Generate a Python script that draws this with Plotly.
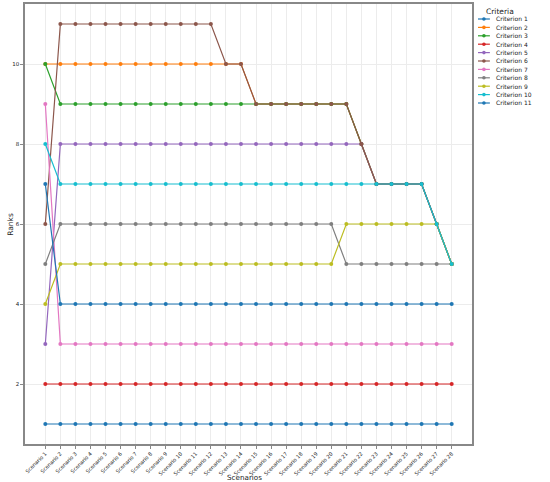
import plotly.graph_objects as go

# Ranks of each criterion across the scenarios #
scenarios = [f"Scenario {i}" for i in range(1, 29)]

criterion_1 = [1] * 28
criterion_2 = [10] + [10] * 11 + [10, 10] + [9] * 7 + [8] + [7] * 4 + [6, 5]
criterion_3 = [10] + [9] * 13 + [9] * 7 + [8] + [7] * 4 + [6, 5]
criterion_4 = [2] * 28
criterion_5 = [3] + [8] * 20 + [8] + [7] * 4 + [6, 5]
criterion_6 = [6] + [11] * 11 + [10, 10] + [9] * 7 + [8] + [7] * 4 + [6, 5]
criterion_7 = [9] + [3] * 27
criterion_8 = [5] + [6] * 19 + [5] * 8
criterion_9 = [4] + [5] * 19 + [6] * 6 + [6, 5]
criterion_10 = [8] + [7] * 25 + [6, 5]
criterion_11 = [7] + [4] * 27

criteria_names = [f"Criterion {i}" for i in range(1, 12)]
ranks = [criterion_1, criterion_2, criterion_3, criterion_4, criterion_5, criterion_6,
         criterion_7, criterion_8, criterion_9, criterion_10, criterion_11]

colors = ["#1f77b4", "#ff7f0e", "#2ca02c", "#d62728", "#9467bd", "#8c564b",
          "#e377c2", "#7f7f7f", "#bcbd22", "#17becf", "#1f77b4"]

fig = go.Figure()

for name, values, color in zip(criteria_names, ranks, colors):
    fig.add_trace(go.Scatter(
        x=scenarios,
        y=values,
        name=name,
        mode="lines+markers",
        line=dict(color=color, width=1.2),
        marker=dict(color=color, size=4),
        showlegend=False
    ))

# Hand made legend (plotly legend items are too tall for this size) #
plot_w, plot_h = 447, 440
shapes = []
annotations = [dict(
    text="Criteria", x=1.063, y=0.982, xref="paper", yref="paper",
    showarrow=False, font=dict(size=7.5, color="#222222"), xanchor="center", yanchor="middle"
)]
for i, (name, color) in enumerate(zip(criteria_names, colors)):
    yy = (425 - 8.4 * i) / plot_h
    shapes.append(dict(type="line", xref="paper", yref="paper",
                       x0=1.0134, x1=1.040, y0=yy, y1=yy,
                       line=dict(color=color, width=1.2)))
    cx = 1.0267
    shapes.append(dict(type="circle", xref="paper", yref="paper",
                       x0=cx - 1.8 / plot_w, x1=cx + 1.8 / plot_w,
                       y0=yy - 1.8 / plot_h, y1=yy + 1.8 / plot_h,
                       fillcolor=color, line=dict(color=color, width=0)))
    annotations.append(dict(
        text=name, x=1.049, y=yy, xref="paper", yref="paper",
        showarrow=False, font=dict(size=6, color="#222222"), xanchor="left", yanchor="middle"
    ))

# axis titles as annotations so they sit where the reference has them #
annotations.append(dict(
    text="Scenarios", x=0.492, y=-0.077, xref="paper", yref="paper",
    showarrow=False, font=dict(size=7.2, color="#222222"), xanchor="center", yanchor="middle"
))
annotations.append(dict(
    text="Ranks", x=-0.034, y=0.5, xref="paper", yref="paper", textangle=-90,
    showarrow=False, font=dict(size=7.5, color="#222222"), xanchor="center", yanchor="middle"
))

fig.update_layout(
    width=550,
    height=482,
    paper_bgcolor="white",
    plot_bgcolor="white",
    font=dict(family="DejaVu Sans", color="#222222"),
    margin=dict(l=25, r=78, t=4, b=38),
    shapes=shapes,
    annotations=annotations,
    xaxis=dict(
        range=[-1.35, 28.35],
        tickangle=-45,
        tickfont=dict(size=5.2),
        showgrid=True,
        gridcolor="#ececec",
        gridwidth=0.8,
        showline=True,
        linecolor="#888888",
        linewidth=1.5,
        mirror=True,
        ticks="outside",
        ticklen=3,
        tickcolor="#888888",
        automargin=False,
        zeroline=False
    ),
    yaxis=dict(
        range=[0.5, 11.5],
        tickvals=[2, 4, 6, 8, 10],
        tickfont=dict(size=5.5),
        showgrid=True,
        gridcolor="#ececec",
        gridwidth=0.8,
        showline=True,
        linecolor="#888888",
        linewidth=1.5,
        mirror=True,
        ticks="outside",
        ticklen=3,
        tickcolor="#888888",
        automargin=False,
        zeroline=False
    )
)

config = {"displayModeBar": False}

# the page body has a default 8px margin, drop it so the figure fills the window #
fig.write_html("out.html", config=config, post_script="document.body.style.margin='0';")
